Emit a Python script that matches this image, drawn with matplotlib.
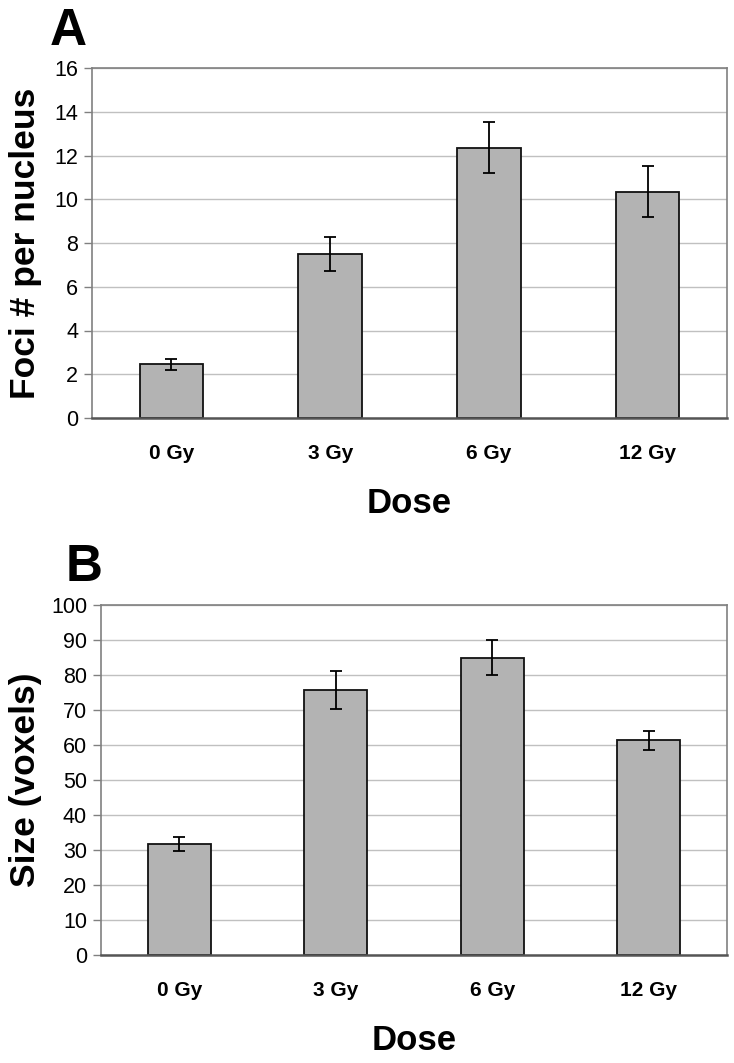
import matplotlib.pyplot as plt
import numpy as np

doses = ["0 Gy", "3 Gy", "6 Gy", "12 Gy"]

foci = [2.45, 7.5, 12.35, 10.35]
foci_err = [0.27, 0.77, 1.17, 1.18]

size_vox = [31.8, 75.7, 85.0, 61.3]
size_err = [2.0, 5.4, 5.0, 2.7]

fam = ['Liberation Sans', 'DejaVu Sans']

fig = plt.figure(figsize=(7.34, 10.63), dpi=100)
axA = fig.add_axes([92 / 734, 1 - 418 / 1063, 635 / 734, 350 / 1063])
axB = fig.add_axes([101 / 734, 1 - 955 / 1063, 626 / 734, 350 / 1063])


def panel(ax, vals, errs, ymax, step, ylabel, label_x):
  x = np.arange(len(doses))
  ax.set_axisbelow(True)
  ax.yaxis.grid(True, color='#c0c0c0', lw=1)
  ax.bar(x, vals, width=0.4, color='#b3b3b3', edgecolor='#111111', lw=1.3, zorder=2)
  ax.errorbar(x, vals, yerr=errs, fmt='none', ecolor='black', elinewidth=1.3,
              capsize=4, capthick=1.3, zorder=3)
  ax.set_xlim(-0.5, len(doses) - 0.5)
  ax.set_ylim(0, ymax)
  ax.set_yticks(np.arange(0, ymax + 1, step))
  ax.set_xticks(x)
  ax.set_xticklabels(doses, family=fam, fontweight='bold', fontsize=15)
  for lbl in ax.get_yticklabels():
    lbl.set_family(fam)
    lbl.set_fontsize(15.5)
  ax.tick_params(axis='x', length=0, pad=19)
  ax.tick_params(axis='y', length=6, color='#808080', width=1, pad=4)
  for s in ['top', 'right', 'left']:
    ax.spines[s].set_color('#808080')
    ax.spines[s].set_linewidth(1.2)
  ax.spines['bottom'].set_color('#555555')
  ax.spines['bottom'].set_linewidth(1.8)
  ax.set_ylabel(ylabel, family=fam, fontweight='bold', fontsize=25.5)
  ax.yaxis.set_label_coords(label_x, 0.5)
  ax.set_xlabel('Dose', family=fam, fontweight='bold', fontsize=25, labelpad=17)


panel(axA, foci, foci_err, 16, 2, 'Foci # per nucleus', -0.079)
panel(axB, size_vox, size_err, 100, 10, 'Size (voxels)', -0.094)

fig.text(50 / 734, 1 - 45 / 1063, 'A', family=fam, fontweight='bold', fontsize=37)
fig.text(66 / 734, 1 - 581 / 1063, 'B', family=fam, fontweight='bold', fontsize=37)

plt.savefig('out.png', dpi=100)
